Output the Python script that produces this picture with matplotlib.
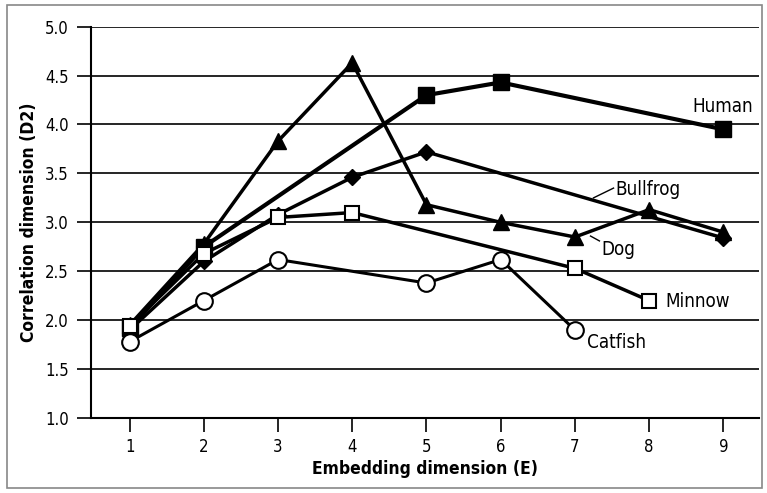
import matplotlib.pyplot as plt
from matplotlib.patches import Rectangle

plt.rcParams['font.family'] = ['DejaVu Sans']
plt.rcParams['font.stretch'] = 'condensed'

# Data
human_x = [1, 2, 5, 6, 9]
human_y = [1.92, 2.75, 4.30, 4.43, 3.95]

dog_x = [1, 2, 3, 4, 5, 6, 7, 8, 9]
dog_y = [1.95, 2.78, 3.83, 4.63, 3.18, 3.00, 2.85, 3.13, 2.90]

bullfrog_x = [1, 2, 3, 4, 5, 9]
bullfrog_y = [1.90, 2.60, 3.08, 3.46, 3.72, 2.84]

minnow_x = [1, 2, 3, 4, 7, 8]
minnow_y = [1.94, 2.68, 3.05, 3.10, 2.53, 2.20]

catfish_x = [1, 2, 3, 5, 6, 7]
catfish_y = [1.78, 2.20, 2.62, 2.38, 2.62, 1.90]

fig = plt.figure(figsize=(7.67, 4.93), dpi=100)
ax = fig.add_axes([0.1186, 0.152, 0.871, 0.794])

# frame round the whole figure
fig.patches.append(Rectangle((0.009, 0.01), 0.985, 0.98, transform=fig.transFigure,
                             fill=False, edgecolor='#888888', linewidth=1.2))

ax.plot(human_x, human_y, color='black', lw=3, marker='s', ms=11,
        mfc='black', mec='black', zorder=3)
ax.plot(dog_x, dog_y, color='black', lw=2.5, marker='^', ms=11,
        mfc='black', mec='black', zorder=3)
ax.plot(bullfrog_x, bullfrog_y, color='black', lw=2.5, marker='D', ms=8,
        mfc='black', mec='black', zorder=3)
ax.plot(minnow_x, minnow_y, color='black', lw=2.5, marker='s', ms=10,
        mfc='white', mec='black', mew=1.5, zorder=4)
ax.plot(catfish_x, catfish_y, color='black', lw=2.2, marker='o', ms=12,
        mfc='white', mec='black', mew=1.5, zorder=5)

ax.text(8.99, 4.18, 'Human', fontsize=13.5, ha='center', va='center')
ax.text(7.55, 3.34, 'Bullfrog', fontsize=13.5, ha='left', va='center')
ax.plot([7.25, 7.52], [3.25, 3.35], color='black', lw=1)
ax.text(7.35, 2.72, 'Dog', fontsize=13.5, ha='left', va='center')
ax.plot([7.21, 7.33], [2.86, 2.81], color='black', lw=1)
ax.text(8.22, 2.19, 'Minnow', fontsize=13.5, ha='left', va='center')
ax.text(7.16, 1.77, 'Catfish', fontsize=13.5, ha='left', va='center')

ax.set_xlim(0.48, 9.48)
ax.set_ylim(1.0, 5.0)
ax.set_xticks(range(1, 10))
ax.set_yticks([1.0, 1.5, 2.0, 2.5, 3.0, 3.5, 4.0, 4.5, 5.0])
ax.set_yticklabels(['1.0', '1.5', '2.0', '2.5', '3.0', '3.5', '4.0', '4.5', '5.0'])
ax.yaxis.grid(True, color='black', lw=1.2)
ax.set_axisbelow(True)
ax.tick_params(axis='both', direction='out', length=10, width=1.2, labelsize=12)
ax.tick_params(axis='x', pad=4)
ax.tick_params(axis='y', pad=6)

ax.spines['top'].set_visible(False)
ax.spines['right'].set_visible(False)
ax.spines['left'].set_linewidth(1.5)
ax.spines['bottom'].set_linewidth(1.5)

ax.set_xlabel('Embedding dimension (E)', fontsize=12.5, fontweight='bold')
ax.set_ylabel('Correlation dimension (D2)', fontsize=12.5, fontweight='bold')
ax.xaxis.set_label_coords(0.5, -0.108)
ax.yaxis.set_label_coords(-0.08, 0.5)

fig.savefig('out.png', dpi=100)
